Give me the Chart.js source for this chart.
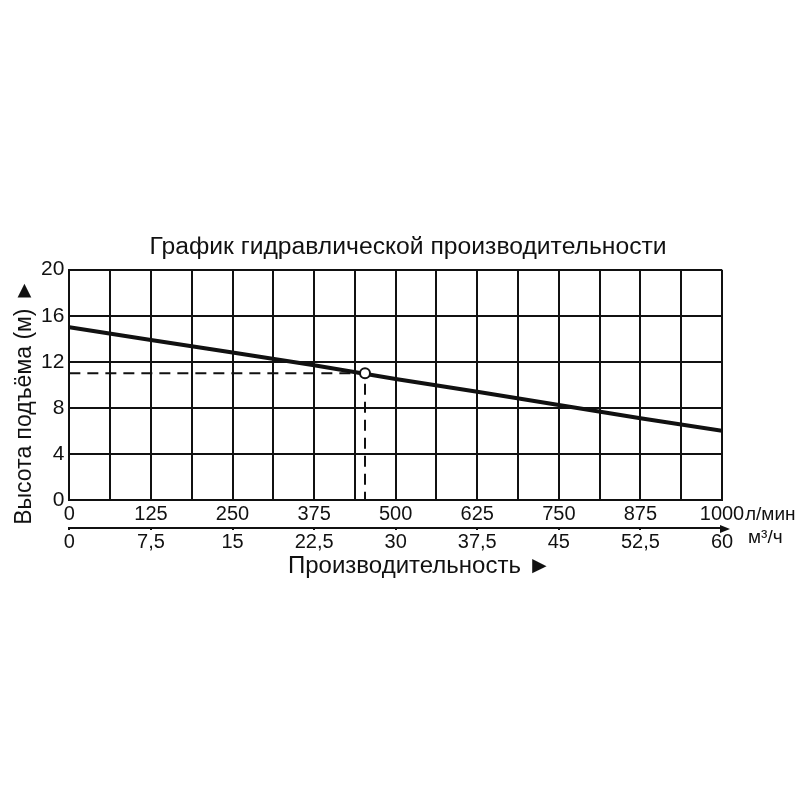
<!DOCTYPE html>
<html>
<head>
<meta charset="utf-8">
<script src="https://cdn.jsdelivr.net/npm/chart.js@4"></script>
<style>
    body { margin: 0; background: #fff; }
    #wrap { width: 800px; height: 800px; }
</style>
</head>
<body>
<div id="wrap"><canvas id="pumpChart" width="800" height="800"></canvas></div>
<script>
// flow in l/min and head in metres
const flowLpm = [0, 125, 250, 375, 500, 625, 750, 875, 1000];
const headM = [15, 13.9, 12.8, 11.7, 10.5, 9.4, 8.25, 7.1, 6];
// marked working point
const workFlow = [453];
const workHead = [11];
// axis ranges / ticks
const headTicks = [0, 4, 8, 12, 16, 20];
const lpmMax = 1000;
const m3hMax = 60;

const font = "'Liberation Sans', Arial, sans-serif";

const curve = flowLpm.map((f, i) => ({x: f, y: headM[i]}));
const point = workFlow.map((f, i) => ({x: f, y: workHead[i]}));
const guide = [
    {x: 0, y: workHead[0]},
    {x: workFlow[0], y: workHead[0]},
    {x: workFlow[0], y: 0}
];

const extras = {
    id: 'extras',
    afterDraw(chart) {
        const ctx = chart.ctx;
        const x = chart.scales.x;
        const x2 = chart.scales.x2;
        ctx.save();
        // arrow at the end of second axis
        ctx.fillStyle = '#111';
        ctx.beginPath();
        ctx.moveTo(x2.right + 8, x2.top + 1);
        ctx.lineTo(x2.right - 2, x2.top - 3);
        ctx.lineTo(x2.right - 2, x2.top + 5);
        ctx.closePath();
        ctx.fill();
        // units
        ctx.font = "19px " + font;
        ctx.textBaseline = 'middle';
        ctx.textAlign = 'left';
        ctx.fillText('л/мин', x.right + 23, x.top + 15);
        ctx.fillText('м³/ч', x.right + 26, x2.top + 10);
        ctx.restore();
    }
};

new Chart(document.getElementById('pumpChart'), {
    type: 'line',
    data: {
        datasets: [
            {
                data: point,
                showLine: false,
                pointRadius: 5,
                pointBorderWidth: 2,
                pointBorderColor: '#111',
                pointBackgroundColor: '#fff'
            },
            {
                data: curve,
                borderColor: '#111',
                borderWidth: 4,
                pointRadius: 0,
                fill: false
            },
            {
                data: guide,
                borderColor: '#111',
                borderWidth: 2,
                borderDash: [11, 7],
                pointRadius: 0,
                fill: false
            }
        ]
    },
    options: {
        responsive: false,
        animation: false,
        layout: {padding: {top: 232, bottom: 222, left: 13, right: 78}},
        plugins: {
            legend: {display: false},
            tooltip: {enabled: false},
            title: {
                display: true,
                fullSize: false,
                text: '\u2003График гидравлической производительности',
                color: '#111',
                font: {family: font, size: 24.7, weight: 'normal'},
                padding: {top: 0, bottom: 8}
            }
        },
        scales: {
            x: {
                type: 'linear',
                min: 0,
                max: lpmMax,
                position: 'bottom',
                grid: {color: '#111', lineWidth: 2, drawTicks: false},
                border: {color: '#111', width: 2},
                ticks: {
                    stepSize: 62.5,
                    autoSkip: false,
                    maxRotation: 0,
                    padding: 2,
                    color: '#111',
                    font: {family: font, size: 20},
                    callback: v => (v % 125 === 0 ? v : '')
                }
            },
            x2: {
                type: 'linear',
                min: 0,
                max: m3hMax,
                position: 'bottom',
                grid: {drawOnChartArea: false, drawTicks: true, tickLength: 2, color: '#111', lineWidth: 2},
                border: {color: '#111', width: 2},
                ticks: {
                    stepSize: 7.5,
                    autoSkip: false,
                    maxRotation: 0,
                    padding: 0,
                    color: '#111',
                    font: {family: font, size: 20},
                    callback: v => String(v).replace('.', ',')
                },
                title: {
                    display: true,
                    text: '\u2003\u2003Производительность ►',
                    color: '#111',
                    font: {family: font, size: 24, lineHeight: 1},
                    padding: {top: 0, bottom: 0}
                }
            },
            y: {
                min: 0,
                max: 20,
                afterBuildTicks: axis => { axis.ticks = headTicks.map(v => ({value: v})); },
                grid: {color: '#111', lineWidth: 2, drawTicks: false},
                border: {color: '#111', width: 2},
                ticks: {
                    padding: 5,
                    color: '#111',
                    font: {family: font, size: 21}
                },
                title: {
                    display: true,
                    text: 'Высота подъёма (м) ►\u2003\u2002',
                    color: '#111',
                    font: {family: font, size: 23, lineHeight: 1},
                    padding: {top: 0, bottom: 0}
                }
            }
        }
    },
    plugins: [extras]
});
</script>
</body>
</html>
